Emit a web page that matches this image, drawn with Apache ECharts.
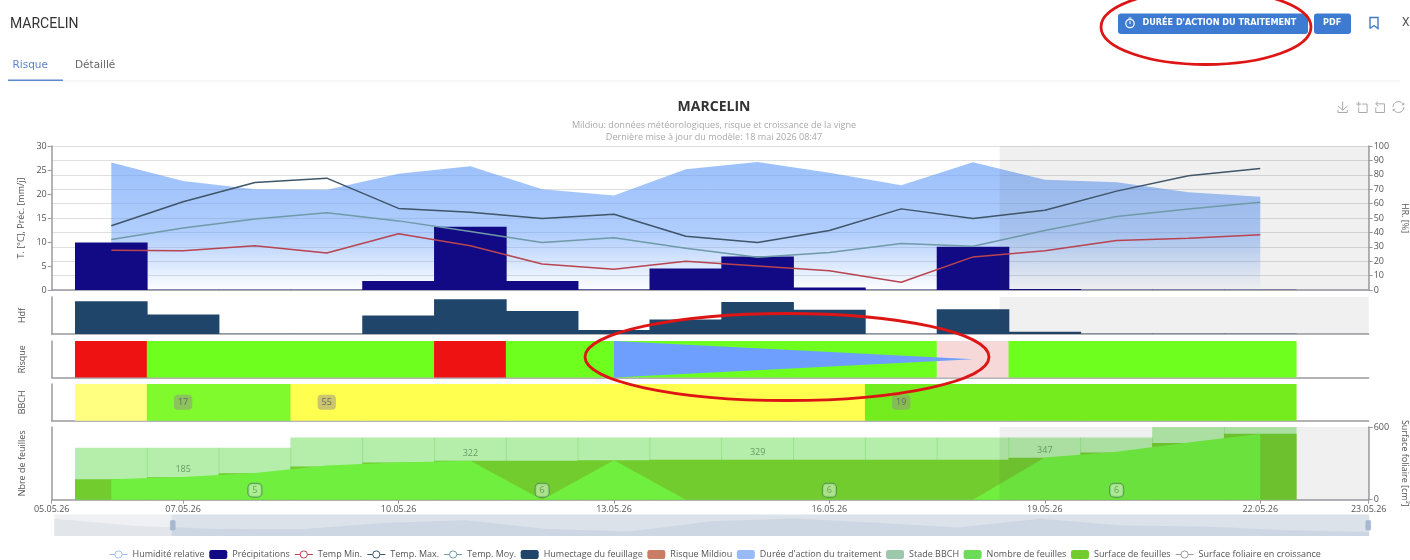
<!DOCTYPE html>
<html><head><meta charset="utf-8"><style>html,body{margin:0;padding:0;background:#fff}#c{width:1410px;height:560px}</style>
<script src="https://cdn.jsdelivr.net/npm/echarts@6/dist/echarts.min.js"></script></head>
<body><div id="c"></div><script>
const days=[6,7,8,9,10,11,12,13,14,15,16,17,18,19,20,21,22];
const humidity=[88.6,75.7,70,69.7,80.8,85.9,70,65.7,83.8,88.9,81.5,72.7,88.7,76.6,74.8,67.8,64.8];
const precip=[9.9,0.03,0.03,0.03,1.9,13.2,1.9,0.1,4.5,7,0.5,0.03,9,0.2,0.05,0.05,0.05];
const tempMin=[8.3,8.2,9.2,7.7,11.7,9.2,5.4,4.3,6,5,4,1.6,6.9,8.2,10.3,10.8,11.5];
const tempMax=[13.4,18.4,22.4,23.3,17,16.2,14.9,15.8,11.2,9.9,12.4,16.9,14.9,16.6,20.6,23.8,25.3];
const tempMoy=[10.5,12.9,14.8,16.1,14.4,12.2,9.9,10.9,8.7,6.8,7.8,9.7,9.1,12.4,15.3,16.9,18.3];
const wetness=[21.2,12.7,0.1,0.1,12,22.5,15,2.6,9.4,20.7,15.7,0.1,16.1,1.5,0.2,0.2,0.2];
const risk=['high','low','low','low','low','high','low','low','low','low','low','low','mid','low','low','low','low'];
const bbch=[0,17,17,55,55,55,55,55,55,55,55,19,19,19,19,19,19];
const leaves=[5,5,5,6,6,6,6,6,6,6,6,6,6,6,6,7,7];
const surface=[169,185,218,274,307,322,322,326,329,329,329,329,329,347,390,467,545];
const growing=[169,188,221,282,307,321,0,326,0,0,0,0,0,348,395,473,545];
const surfaceLabels=[[7,185],[11,322],[15,329],[19,347]];
const leafLabels=[[8,5],[12,6],[16,6],[20,6]];
const treatmentDays=[13,18];
const treatmentLow=[0,0.5];
const treatmentHigh=[1,0.5];
const tickDays=[5.17,7,10,13,16,19,22,23.51];
const rangeStart=3.37, windowStart=5.17, rangeEnd=23.51, forecastStart=18.37;

const base=new Date(2026,4,0).getTime();
const T=d=>base+d*864e5;
const fmtDate=v=>{const d=new Date(v),p=n=>String(n).padStart(2,'0');return p(d.getDate())+'.'+p(d.getMonth()+1)+'.'+String(d.getFullYear()).slice(2);};
const pair=(arr)=>arr.map((v,i)=>[T(days[i]),v]);
const FONT='"Open Sans"';
const G='#9a9aa0';
const riskCol={high:'#ee1212',low:'#6eff1e',mid:'#f6d8d8'};
const bbchCol={0:'#ffff80',17:'#80fa2c',55:'#ffff50',19:'#75ec1e'};
const xBase=(i,extra)=>Object.assign({type:'value',gridIndex:i,min:T(rangeStart),max:T(rangeEnd),
  axisLine:{show:true,onZero:false,lineStyle:{color:G,width:1.5}},axisTick:{show:false},axisLabel:{show:false},splitLine:{show:false},axisPointer:{show:false}},extra||{});
const yBase=(i,name,extra)=>Object.assign({type:'value',gridIndex:i,name,nameLocation:'middle',nameGap:25,
  nameTextStyle:{fontFamily:FONT,fontSize:9,color:'#555'},min:0,max:1,
  axisLine:{show:true,lineStyle:{color:G,width:1.5}},axisTick:{show:false},axisLabel:{show:false},splitLine:{show:false}},extra||{});
const forecast={silent:true,z:3,itemStyle:{color:'rgba(60,60,60,0.075)'},data:[[{xAxis:T(forecastStart)},{xAxis:T(rangeEnd)}]]};
const axLab={show:true,fontFamily:FONT,fontSize:9,color:'#555',margin:5};
const tick={show:true,length:4,lineStyle:{color:G}};
const tempLine=(name,data,color)=>({name,type:'line',data:pair(data),xAxisIndex:0,yAxisIndex:0,symbol:'circle',showSymbol:false,z:4,
  lineStyle:{color,width:1.5},itemStyle:{color},silent:true});
const BW=72.6;
const gridCommon={left:51.7,right:41.3,outerBoundsMode:'none'};
const thinIcon={borderWidth:1,color:'#fff'};

const option={
 animation:false,
 textStyle:{fontFamily:FONT},
 title:{text:'MARCELIN',subtext:'Mildiou: données météorologiques, risque et croissance de la vigne\nDernière mise à jour du modèle: 18 mai 2026 08:47',
  left:709,top:95,textAlign:'center',itemGap:6,
  textStyle:{fontFamily:FONT,fontSize:14,fontWeight:'bold',color:'#333'},
  subtextStyle:{fontFamily:FONT,fontSize:9.1,color:'#aaa',lineHeight:11.5}},
 toolbox:{left:1320.5,top:84,width:120,itemSize:11,itemGap:3.6,iconStyle:{borderColor:'#aaa',color:'none',borderWidth:1},
  feature:{saveAsImage:{title:''},dataZoom:{title:{zoom:'',back:''},yAxisIndex:false},restore:{title:''}}},
 grid:[
  Object.assign({top:146,height:144},gridCommon),
  Object.assign({top:297,height:37},gridCommon),
  Object.assign({top:341,height:36.5},gridCommon),
  Object.assign({top:384,height:36.7},gridCommon),
  Object.assign({top:427,height:72.7},gridCommon)],
 xAxis:[xBase(0),xBase(1),xBase(2),xBase(3),xBase(4,{
   axisTick:Object.assign({customValues:tickDays.map(T)},tick),
   axisLabel:Object.assign({customValues:tickDays.map(T),showMinLabel:true,showMaxLabel:true,hideOverlap:false,
     formatter:fmtDate},axLab)})],
 yAxis:[
  yBase(0,'T. [°C], Préc. [mm/j]',{max:30,interval:5,axisTick:tick,axisLabel:axLab}),
  yBase(0,'HR. [%]',{position:'right',max:100,interval:10,nameRotate:-90,nameGap:31,axisTick:tick,axisLabel:axLab,splitLine:{show:true,lineStyle:{color:'#dfdfdf',width:1}}}),
  yBase(1,'Hdf',{max:24}),
  yBase(2,'Risque'),
  yBase(3,'BBCH'),
  yBase(4,'Nbre de feuilles',{max:7}),
  yBase(4,'Surface foliaire [cm²]',{position:'right',max:600,interval:600,nameRotate:-90,nameGap:29,axisTick:tick,axisLabel:axLab})],
 dataZoom:[{type:'slider',xAxisIndex:[0,1,2,3,4],filterMode:'none',startValue:T(windowStart),endValue:T(rangeEnd),
  left:53.5,right:41.5,top:514,height:21.5,borderColor:'transparent',borderRadius:0,backgroundColor:'#eef0f3',
  fillerColor:'rgba(120,145,190,0.15)',showDetail:false,showDataShadow:true,brushSelect:false,
  moveHandleSize:0,handleIcon:'path://M2 0H8A2 2 0 0 1 10 2V18A2 2 0 0 1 8 20H2A2 2 0 0 1 0 18V2A2 2 0 0 1 2 0Z',handleSize:'45%',
  handleStyle:{color:'#a8b8d2',borderColor:'#9fb0cc',borderWidth:0.5},
  dataBackground:{lineStyle:{width:0,opacity:0},areaStyle:{color:'#e2e5ea',opacity:1}},
  selectedDataBackground:{lineStyle:{width:0,opacity:0},areaStyle:{color:'#b9c3d6',opacity:0.32}}}],
 legend:{left:109,top:550,itemWidth:18,itemHeight:9,itemGap:4.6,padding:0,lineStyle:{width:1},
  textStyle:{fontFamily:FONT,fontSize:9,color:'#555'},
  data:[
   {name:'Humidité relative',itemStyle:Object.assign({borderColor:'#9cc0f0'},thinIcon)},
   {name:'Précipitations'},
   {name:'Temp Min.',itemStyle:Object.assign({borderColor:'#b84450'},thinIcon)},
   {name:'Temp. Max.',itemStyle:Object.assign({borderColor:'#3f5568'},thinIcon)},
   {name:'Temp. Moy.',itemStyle:Object.assign({borderColor:'#6f9aa8'},thinIcon)},
   {name:'Humectage du feuillage'},
   {name:'Risque Mildiou',itemStyle:{color:'#c87d64'}},
   {name:"Durée d'action du traitement",itemStyle:{color:'#98bbf8',opacity:1}},
   {name:'Stade BBCH',itemStyle:{color:'#9cc8ac'}},
   {name:'Nombre de feuilles',itemStyle:{color:'#6cdc58',opacity:1}},
   {name:'Surface de feuilles'},
   {name:'Surface foliaire en croissance',itemStyle:Object.assign({borderColor:'#999'},thinIcon)}]},
 series:[
  {name:'Humidité relative',type:'line',data:pair(humidity),xAxisIndex:0,yAxisIndex:1,symbol:'circle',showSymbol:false,silent:true,z:1,
   lineStyle:{width:0,color:'#9cc0f0'},itemStyle:{color:'#9cc0f0'},
   areaStyle:{opacity:1,color:{type:'linear',x:0,y:0,x2:0,y2:1,colorStops:[{offset:0,color:'rgba(105,160,250,0.66)'},{offset:0.55,color:'rgba(105,160,250,0.53)'},{offset:1,color:'rgba(105,160,250,0.01)'}]}},
   markArea:forecast},
  {name:'Précipitations',type:'bar',data:pair(precip),xAxisIndex:0,yAxisIndex:0,barWidth:BW,z:2,silent:true,itemStyle:{color:'#120a85'}},
  tempLine('Temp Min.',tempMin,'#b84450'),
  tempLine('Temp. Max.',tempMax,'#3f5568'),
  tempLine('Temp. Moy.',tempMoy,'#6f9aa8'),
  {name:'Humectage du feuillage',type:'bar',data:pair(wetness),xAxisIndex:1,yAxisIndex:2,barWidth:BW,silent:true,itemStyle:{color:'#20456b'},markArea:forecast},
  {name:'Risque Mildiou',type:'bar',xAxisIndex:2,yAxisIndex:3,barWidth:BW,silent:true,itemStyle:{color:'#c87d64'},
   data:risk.map((r,i)=>({value:[T(days[i]),1],itemStyle:{color:riskCol[r]}}))},
  {name:"Durée d'action du traitement",type:'custom',xAxisIndex:2,yAxisIndex:3,silent:true,z:3,itemStyle:{color:'#98bbf8'},
   encode:{x:0,y:[1,2]},
   data:treatmentDays.map((d,i)=>[T(d),treatmentLow[i],treatmentHigh[i]]),
   renderItem:(params,api)=>{
     if(params.dataIndex!==0) return null;
     const a=api.coord([T(treatmentDays[0]),treatmentHigh[0]]),b=api.coord([T(treatmentDays[1]),treatmentHigh[1]]),c=api.coord([T(treatmentDays[1]),treatmentLow[1]]),d=api.coord([T(treatmentDays[0]),treatmentLow[0]]);
     return {type:'polygon',shape:{points:[a,b,c,d]},style:{fill:'#6e9fff'}};
   }},
  {name:'Stade BBCH',type:'bar',xAxisIndex:3,yAxisIndex:4,barWidth:BW,silent:true,itemStyle:{color:'#9cc8ac'},
   data:bbch.map((s,i)=>{const first=s&&(i===0||bbch[i-1]!==s);return {value:[T(days[i]),1],itemStyle:{color:bbchCol[s]},
     label:{show:!!first,position:'inside',formatter:String(s),fontFamily:FONT,fontSize:9,color:'#666',backgroundColor:'rgba(150,140,140,0.5)',borderRadius:4,padding:[3,4]}};})},
  {name:'Nombre de feuilles',type:'bar',xAxisIndex:4,yAxisIndex:5,barWidth:BW,barGap:'-100%',silent:true,z:1,
   itemStyle:{color:'#6cdc58',opacity:0.5},data:pair(leaves),markArea:forecast},
  {name:'Surface de feuilles',type:'bar',xAxisIndex:4,yAxisIndex:6,barWidth:BW,barGap:'-100%',silent:true,z:2,
   itemStyle:{color:'#72cc2e'},data:pair(surface)},
  {name:'Surface foliaire en croissance',type:'line',xAxisIndex:4,yAxisIndex:6,symbol:'circle',showSymbol:false,silent:true,z:2.5,
   lineStyle:{width:0,color:'#999'},itemStyle:{color:'#999'},areaStyle:{color:'#70ef3e',opacity:1},data:pair(growing)},
  {name:'surfaceLabels',type:'scatter',xAxisIndex:4,yAxisIndex:6,symbolSize:0,silent:true,z:6,data:surfaceLabels.map(p=>[T(p[0]),p[1]]),
   label:{show:true,position:'top',distance:3,formatter:p=>p.value[1],fontFamily:FONT,fontSize:9,color:'#4f8a4f'}},
  {name:'leafLabels',type:'scatter',xAxisIndex:4,yAxisIndex:5,symbolSize:0,silent:true,z:6,data:leafLabels.map(p=>[T(p[0]),0,p[1]]),
   label:{show:true,position:'top',distance:3,formatter:p=>p.value[2],fontFamily:FONT,fontSize:9,color:'#5a8a5a',backgroundColor:'rgba(205,240,190,0.8)',borderColor:'#3f8f3f',borderWidth:1,borderRadius:4,padding:[2,4]}}
 ],
 graphic:[
  {type:'text',left:10,top:17,style:{text:'MARCELIN',font:'14px Roboto',fill:'#333'}},
  {type:'text',left:12.5,top:60,style:{text:'Risque',font:'500 10.5px "DejaVu Sans"',fill:'#5b86c6'}},
  {type:'text',left:75,top:60,style:{text:'Détaillé',font:'10.5px "DejaVu Sans"',fill:'#666'}},
  {type:'rect',shape:{x:8,y:80.5,width:1392,height:1},style:{fill:'#f0f0f0'}},
  {type:'rect',shape:{x:8,y:79.5,width:55,height:1.6},style:{fill:'#5b8ad0'}},
  {type:'rect',shape:{x:1118,y:13.5,width:190,height:20.5,r:3},style:{fill:'#3d7bd2'}},
  {type:'circle',shape:{cx:1130,cy:23.5,r:4.2},style:{fill:'none',stroke:'#fff',lineWidth:1.2}},
  {type:'line',shape:{x1:1130,y1:21,x2:1130,y2:24},style:{stroke:'#fff',lineWidth:1}},
  {type:'line',shape:{x1:1128.5,y1:18,x2:1131.5,y2:18},style:{stroke:'#fff',lineWidth:1}},
  {type:'text',left:1142.5,top:19,style:{text:"DURÉE D'ACTION DU TRAITEMENT",font:'bold 8.1px "DejaVu Sans"',fill:'#fff'}},
  {type:'rect',shape:{x:1314,y:13.5,width:37,height:20.5,r:3},style:{fill:'#3d7bd2'}},
  {type:'text',left:1323,top:19,style:{text:'PDF',font:'bold 8.1px "DejaVu Sans"',fill:'#fff'}},
  {type:'polyline',shape:{points:[[1370,28.5],[1370,17.5],[1378,17.5],[1378,28.5],[1374,25.5],[1370,28.5]]},style:{fill:'none',stroke:'#3d7bd2',lineWidth:1.4}},
  {type:'text',left:1402,top:17,style:{text:'X',font:'12px Roboto',fill:'#555'}},
  {type:'ellipse',z:50,shape:{cx:1206,cy:27,rx:105,ry:37.5},style:{fill:'none',stroke:'#dd1515',lineWidth:2.8}},
  {type:'ellipse',z:50,shape:{cx:787,cy:357,rx:202,ry:43.5},style:{fill:'none',stroke:'#dd1515',lineWidth:2.8}}
 ]
};
const chart=echarts.init(document.getElementById('c'),null,{renderer:'canvas'});
chart.setOption(option);
</script></body></html>
